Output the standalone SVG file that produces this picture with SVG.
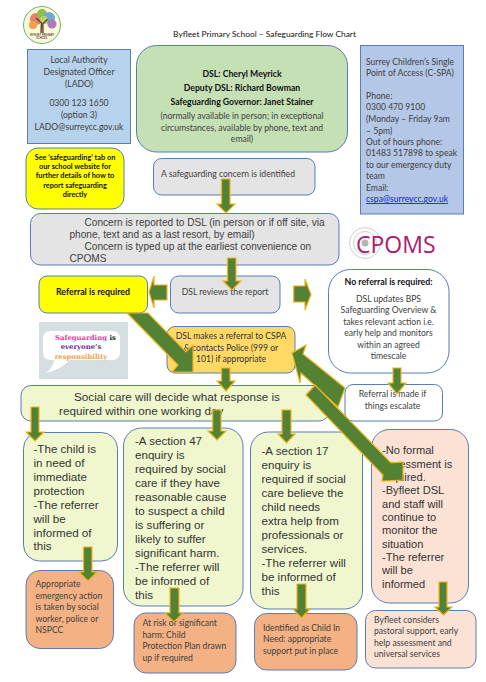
<svg xmlns="http://www.w3.org/2000/svg" width="486" height="682" viewBox="0 0 486 682">
<style>
text{font-family:"Lato","Carlito","Liberation Sans",sans-serif;fill:#404040;font-size:8.6px}
.c{text-anchor:middle}
.k{fill:#111}
.b{font-weight:700}
.box{stroke:#5b7db5;stroke-width:1}
.arrow polygon{fill:#548235;stroke:#f0b41e;stroke-width:1.2;stroke-linejoin:miter}
.big{font-family:"Liberation Sans",Arial,sans-serif;font-size:11.6px;fill:#333}
.mid{font-family:"Liberation Sans",Arial,sans-serif;font-size:10.1px;fill:#404040}
.nf{font-size:11.1px}
.sg{font-family:"DejaVu Serif",serif;font-weight:700;font-size:7px}
</style>
<rect width="486" height="682" fill="#fff"/>
<g id="logo">
<circle cx="42" cy="25" r="18.500" fill="#fdf6d8" stroke="#5fb878" stroke-width="1"/>
<circle cx="36" cy="19" r="6" fill="#e8806a"/><circle cx="42" cy="14" r="5" fill="#8cc04a"/><circle cx="49" cy="18" r="6" fill="#6aa9d8"/><circle cx="33" cy="25" r="4" fill="#f0a14a"/><circle cx="52" cy="24" r="4.500" fill="#b078c0"/><circle cx="44" cy="20" r="4" fill="#b8d070"/>
<path d="M41 33L41.500 23L36 18M41.500 25L48 19M43 33L42.800 24" fill="none" stroke="#6a4a2a" stroke-width="1.500"/>
<text class="c k" x="42" y="35.500" style="font-size:2.800px">BYFLEET PRIMARY</text>
<text class="c k" x="42" y="39" style="font-size:2.800px">SCHOOL</text>
</g>
<text id="title" class="c k" x="264.500" y="37" style="font-size:8.400px">Byfleet Primary School – Safeguarding Flow Chart</text>
<g id="lado">
<rect class="box" x="27.500" y="49.500" width="103" height="94" fill="#b7d2ec"/>
<text class="c" x="79" y="62.500">Local Authority</text><text class="c" x="79" y="74.500">Designated Officer</text><text class="c" x="79" y="87">(LADO)</text><text class="c" x="79" y="105.500">0300 123 1650</text><text class="c" x="79" y="118">(option 3)</text><text class="c" x="79" y="130">LADO@surreycc.gov.uk</text>
</g>
<g id="dsl">
<rect class="box" x="136.500" y="45.500" width="211" height="106.500" rx="20" fill="#c5e0b4"/>
<text class="c k b" x="242" y="77" style="font-size:8.700px">DSL: Cheryl Meyrick</text>
<text class="c k b" x="242" y="91" style="font-size:8.700px">Deputy DSL: Richard Bowman</text>
<text class="c k b" x="242" y="105" style="font-size:8.700px">Safeguarding Governor: Janet Stainer</text>
<text class="c" x="242" y="119">(normally available in person; in exceptional</text>
<text class="c" x="242" y="130.500">circumstances, available by phone, text and</text>
<text class="c" x="242" y="142">email)</text>
</g>
<g id="cspa">
<rect class="box" x="360.500" y="45.500" width="103" height="168.500" fill="#b4c7e7"/>
<text x="366" y="64.500">Surrey Children’s Single</text><text x="366" y="76">Point of Access (C-SPA)</text>
<text x="366" y="99">Phone:</text><text x="366" y="110">0300 470 9100</text><text x="366" y="122">(Monday – Friday 9am</text><text x="366" y="133.500">– 5pm)</text><text x="366" y="145">Out of hours phone:</text><text x="366" y="156">01483 517898 to speak</text><text x="366" y="167.500">to our emergency duty</text><text x="366" y="179">team</text><text x="366" y="190.500">Email:</text>
<text x="366" y="202" style="fill:#0b1fd6;text-decoration:underline">cspa@surreycc.gov.uk</text>
</g>
<g id="see-tab">
<rect class="box" x="26" y="148" width="98" height="61" rx="12" fill="#ffff00"/>
<text class="c k b" x="75" y="160" style="font-size:7.300px">See ‘safeguarding’ tab on</text><text class="c k b" x="75" y="169" style="font-size:7.300px">our school website for</text><text class="c k b" x="75" y="178" style="font-size:7.300px">further details of how to</text><text class="c k b" x="75" y="187.500" style="font-size:7.300px">report safeguarding</text><text class="c k b" x="75" y="196.500" style="font-size:7.300px">directly</text>
</g>
<g id="identified">
<rect class="box" x="153.500" y="158.500" width="161.500" height="36.500" rx="8" fill="#e4e4e4"/>
<text x="161" y="177">A safeguarding concern is identified</text>
</g>
<g id="reported">
<rect class="box" x="30.500" y="213.500" width="308.500" height="51.500" rx="10" fill="#e4e4e4"/>
<text class="mid" x="84.500" y="225.500">Concern is reported to DSL (in person or if off site, via</text>
<text class="mid" x="69.500" y="237.500">phone, text and as a last resort, by email)</text>
<text class="mid" x="84.500" y="249.500">Concern is typed up at the earliest convenience on</text>
<text class="mid" x="69.500" y="261.500">CPOMS</text>
</g>
<g id="cpoms">
<circle cx="365" cy="243" r="15.500" fill="none" stroke="#cfcfcf" stroke-width="1"/>
<circle cx="365" cy="243" r="11.500" fill="none" stroke="#cfcfcf" stroke-width="1"/>
<circle cx="365" cy="243" r="3.500" fill="#b5b5b5"/>
<text x="356" y="252.500" style="font-size:23px;fill:#ad1a6c;font-family:'Open Sans',sans-serif">CPOMS</text>
</g>
<g id="referral">
<rect class="box" x="39" y="276" width="108.500" height="37" rx="8" fill="#ffff00"/>
<text class="c k b" x="93" y="295" style="font-size:8.800px">Referral is required</text>
</g>
<g id="reviews">
<rect class="box" x="170.500" y="276" width="109.500" height="37" rx="8" fill="#e4e4e4"/>
<text class="c" x="225" y="295">DSL reviews the report</text>
</g>
<g id="no-referral">
<rect class="box" x="328.500" y="269.500" width="120.500" height="103.500" rx="22" fill="#fff"/>
<text class="c k b" x="388.500" y="284.500" style="font-size:8.800px">No referral is required:</text>
<text class="c" x="388.500" y="301.500">DSL updates BPS</text><text class="c" x="388.500" y="313">Safeguarding Overview &amp;</text><text class="c" x="388.500" y="324.500">takes relevant action i.e.</text><text class="c" x="388.500" y="336">early help and monitors</text><text class="c" x="388.500" y="347.500">within an agreed</text><text class="c" x="388.500" y="359">timescale</text>
</g>
<g id="safeguarding-image">
<rect x="39" y="322" width="89" height="57" fill="#d5dee0"/>
<path d="M51 331H112Q120 331 120 339V352Q120 360 112 360H70Q60 370 46 373Q54 366 54 360H51Q43 360 43 352V339Q43 331 51 331Z" fill="#fff"/>
<text class="sg" x="55" y="339.500" style="fill:#f0389a;font-size:6.900px">Safeguarding<tspan fill="#222"> is</tspan></text>
<text class="c sg" x="81" y="349" style="fill:#6a2c91;font-size:6.900px">everyone’s</text>
<text class="c sg" x="81" y="358.500" style="fill:#f4a04a;font-size:6.900px">responsibility</text>
</g>
<g id="makes">
<rect class="box" x="167" y="326.500" width="128" height="46.500" rx="8" fill="#ffd966"/>
<text class="c" x="231" y="338.500" style="fill:#333">DSL makes a referral to CSPA</text><text class="c" x="231" y="350.500" style="fill:#333">&amp; contacts Police (999 or</text><text class="c" x="231" y="362" style="fill:#333">101) if appropriate</text>
</g>
<g id="social">
<rect class="box" x="21" y="385.500" width="308" height="35.500" rx="10" fill="#f0f7ce"/>
<text class="big" x="74" y="401" style="font-size:11.700px">Social care will decide what response is</text>
<text class="big" x="59" y="415" style="font-size:11.700px">required within one working day</text>
</g>
<g id="escalate">
<rect class="box" x="345" y="384.500" width="97.500" height="36.500" rx="8" fill="#fff"/>
<text class="c" x="392.500" y="396.500">Referral is made if</text><text class="c" x="392.500" y="408.500">things escalate</text>
</g>
<g id="child">
<rect class="box" x="23.500" y="432.500" width="94" height="128.500" rx="16" fill="#f0f7ce"/>
<text class="big" x="33.500" y="453">-The child is</text><text class="big" x="33.500" y="467">in need of</text><text class="big" x="33.500" y="481">immediate</text><text class="big" x="33.500" y="494.500">protection</text><text class="big" x="33.500" y="508.500">-The referrer</text><text class="big" x="33.500" y="522.500">will be</text><text class="big" x="33.500" y="536.500">informed of</text><text class="big" x="33.500" y="550">this</text>
</g>
<g id="s47">
<rect class="box" x="123.500" y="428" width="119.500" height="178" rx="18" fill="#f0f7ce"/>
<text class="big" x="135" y="445">-A section 47</text><text class="big" x="135" y="459">enquiry is</text><text class="big" x="135" y="473">required by social</text><text class="big" x="135" y="487">care if they have</text><text class="big" x="135" y="501">reasonable cause</text><text class="big" x="135" y="515">to suspect a child</text><text class="big" x="135" y="529">is suffering or</text><text class="big" x="135" y="543">likely to suffer</text><text class="big" x="135" y="557">significant harm.</text><text class="big" x="135" y="571">-The referrer will</text><text class="big" x="135" y="585">be informed of</text><text class="big" x="135" y="599">this</text>
</g>
<g id="s17">
<rect class="box" x="250.500" y="432" width="112" height="177" rx="18" fill="#f0f7ce"/>
<text class="big" x="261.500" y="455">-A section 17</text><text class="big" x="261.500" y="469">enquiry is</text><text class="big" x="261.500" y="483">required if social</text><text class="big" x="261.500" y="497">care believe the</text><text class="big" x="261.500" y="511">child needs</text><text class="big" x="261.500" y="525">extra help from</text><text class="big" x="261.500" y="539">professionals or</text><text class="big" x="261.500" y="553">services.</text><text class="big" x="261.500" y="567">-The referrer will</text><text class="big" x="261.500" y="581">be informed of</text><text class="big" x="261.500" y="595">this</text>
</g>
<g id="no-formal">
<rect class="box" x="371.500" y="429.500" width="97" height="173.500" rx="18" fill="#fbe2d5"/>
<text class="big nf" x="382" y="454">-No formal</text><text class="big nf" x="382" y="467.500">assessment is</text><text class="big nf" x="382" y="481">required.</text><text class="big nf" x="382" y="494">-Byfleet DSL</text><text class="big nf" x="382" y="507.500">and staff will</text><text class="big nf" x="382" y="521">continue to</text><text class="big nf" x="382" y="534">monitor the</text><text class="big nf" x="382" y="547.500">situation</text><text class="big nf" x="382" y="561">-The referrer</text><text class="big nf" x="382" y="574">will be</text><text class="big nf" x="382" y="587.500">informed</text>
</g>
<g id="emergency">
<rect class="box" x="26" y="570.500" width="87.500" height="78" rx="14" fill="#f4b183"/>
<text x="35.500" y="587">Appropriate</text><text x="35.500" y="598.500">emergency action</text><text x="35.500" y="610">is taken by social</text><text x="35.500" y="621.500">worker, police or</text><text x="35.500" y="633">NSPCC</text>
</g>
<g id="harm">
<rect class="box" x="134" y="613" width="102" height="60" rx="12" fill="#f4b183"/>
<text x="142.500" y="626">At risk of significant</text><text x="142.500" y="637.500">harm: Child</text><text x="142.500" y="649">Protection Plan drawn</text><text x="142.500" y="660.500">up if required</text>
</g>
<g id="need">
<rect class="box" x="254.500" y="613.500" width="102.500" height="56.500" rx="12" fill="#f4b183"/>
<text x="263" y="630.500">Identified as Child In</text><text x="263" y="642">Need: appropriate</text><text x="263" y="654">support put in place</text>
</g>
<g id="pastoral">
<rect class="box" x="365.500" y="610.500" width="110.500" height="57.500" rx="10" fill="#fbe2d5"/>
<text x="374" y="622.500">Byfleet considers</text><text x="374" y="634">pastoral support, early</text><text x="374" y="645.500">help assessment and</text><text x="374" y="657">universal services</text>
</g>
<g id="connectors" class="arrow">
<polygon points="221.500,179 230,179 230,204 235,204 226,213 217,204 221.500,204"/>
<polygon points="227.500,258 236,258 236,281 241,281 232,290 223,281 227.500,281"/>
<polygon points="167,285 154,285 154,276 149,292 154,308 154,300 167,300"/>
<polygon points="293.700,286 305,286 305,279 311,294.500 305,310 305,302 293.700,302"/>
<polygon points="127,313 148,313 186,352 193,345 193,372 172,372 178,365"/>
<polygon points="221.500,368 230,368 230,381 235,381 226,391 217,381 221.500,381"/>
<polygon points="31,407 39,407 39,432 44,432 35,441 26,432 31,432"/>
<polygon points="212.700,410 221,410 221,431 226,431 217,440 208,431 212.700,431"/>
<polygon points="282,410 291,410 291,434 295,434 286.500,443 278,434 282,434"/>
<polygon points="393,368 401,368 401,383 406,383 397,394 388,383 393,383"/>
<polygon points="83.500,547 92,547 92,572 97,572 88,581 79,572 83.500,572"/>
<polygon points="170,588 179,588 179,613 183,613 174,622 165,613 170,613"/>
<polygon points="297,584 306,584 306,609 310,609 301.500,618 293,609 297,609"/>
<polygon points="439,582 447,582 447,607 452,607 443.500,615 435,607 439,607"/>
<polygon points="292,353 306,345 303,354 345,388 338,407 301,373 300,383"/>
<polygon points="315,385 391,463 403,462 403,480 382,481 383,475 306,395"/>
</g>
</svg>
